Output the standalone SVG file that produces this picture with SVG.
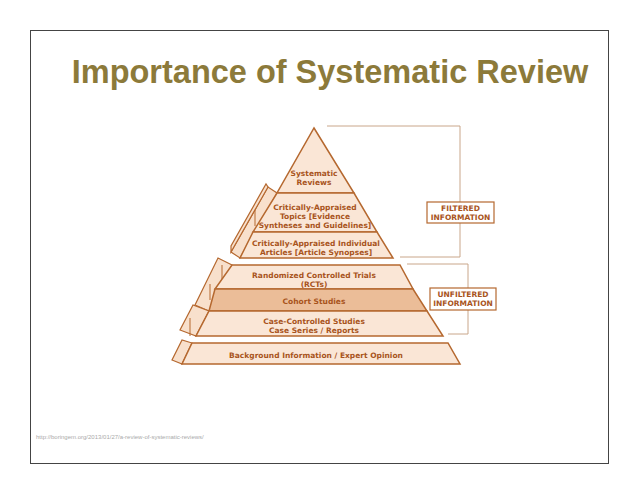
<svg xmlns="http://www.w3.org/2000/svg" width="638" height="493" viewBox="0 0 638 493">
<style>
.b{fill:#fae6d6;stroke:#b5682f;stroke-width:1.5}
.d{fill:#ebbd98;stroke:#b5682f;stroke-width:1.5}
.s{fill:#f8e0cc;stroke:#b5682f;stroke-width:1.2}
.t{font-family:"DejaVu Sans",sans-serif;font-weight:bold;font-size:7.5px;fill:#a8541c;text-anchor:middle}
.br{fill:none;stroke:#c9a68a;stroke-width:1}
.lb{fill:#fff;stroke:#b5682f;stroke-width:1.2}
</style>
<rect x="0" y="0" width="638" height="493" fill="#fff"/>
<rect x="30.5" y="30.5" width="578" height="433" fill="none" stroke="#444" stroke-width="1"/>
<text x="330" y="83" font-family="Liberation Sans,Arial,sans-serif" font-weight="bold" font-size="32.5" fill="#8c7a3a" text-anchor="middle">Importance of Systematic Review</text>
<g id="connectors">
<polyline class="br" points="327,126 460,126 460,257 400,257"/>
<polyline class="br" points="407,264 468,264 468,334 448,334"/>
</g>
<g id="sides">
<polygon class="s" points="277,193 240,258 231,252 268,187"/>
<polygon class="s" points="268,187 231,252 231,246 266,184"/>
<polygon class="s" points="232,265 209,311 195,305 218,258"/>
<polygon class="s" points="209,311 196,336 180,330 193,305"/>
<polygon class="s" points="192,343 182,364 172,360 182,340"/>
<line x1="255" y1="210" x2="255" y2="226" stroke="#b5682f"/>
<line x1="222" y1="265" x2="222" y2="284" stroke="#b5682f"/>
<line x1="210" y1="284" x2="210" y2="300" stroke="#b5682f"/>
<line x1="190" y1="318" x2="190" y2="336" stroke="#b5682f"/>
</g>
<g id="n1"><polygon class="b" points="314,128 354,193 277,193"/><text class="t" x="314" y="176">Systematic</text><text class="t" x="314" y="185">Reviews</text></g>
<g id="n2"><polygon class="b" points="277,193 354,193 377,232 253,232"/><text class="t" x="315" y="210">Critically-Appraised</text><text class="t" x="315" y="219">Topics [Evidence</text><text class="t" x="315" y="228">Syntheses and Guidelines]</text></g>
<g id="n3"><polygon class="b" points="253,232 377,232 393,258 240,258"/><text class="t" x="316" y="246">Critically-Appraised Individual</text><text class="t" x="316" y="255">Articles [Article Synopses]</text></g>
<g id="n4"><polygon class="b" points="232,265 400,265 413,289 215,289"/><text class="t" x="314" y="278">Randomized Controlled Trials</text><text class="t" x="314" y="287">(RCTs)</text></g>
<g id="n5"><polygon class="d" points="215,289 413,289 427,311 209,311"/><text class="t" x="314" y="304">Cohort Studies</text></g>
<g id="n6"><polygon class="b" points="209,311 427,311 443,336 196,336"/><text class="t" x="314" y="324">Case-Controlled Studies</text><text class="t" x="314" y="333">Case Series / Reports</text></g>
<g id="n7"><polygon class="b" points="192,343 448,343 460,364 182,364"/><text class="t" x="316" y="358">Background Information / Expert Opinion</text></g>
<g id="filtered"><rect class="lb" x="427" y="202" width="67" height="21"/><text class="t" x="460.5" y="211">FILTERED</text><text class="t" x="460.5" y="220">INFORMATION</text></g>
<g id="unfiltered"><rect class="lb" x="430" y="288" width="66" height="22"/><text class="t" x="463" y="297">UNFILTERED</text><text class="t" x="463" y="306">INFORMATION</text></g>
<text x="36" y="439" font-family="Liberation Sans,Arial,sans-serif" font-size="6" fill="#aaa">http://boringem.org/2013/01/27/a-review-of-systematic-reviews/</text>
</svg>
